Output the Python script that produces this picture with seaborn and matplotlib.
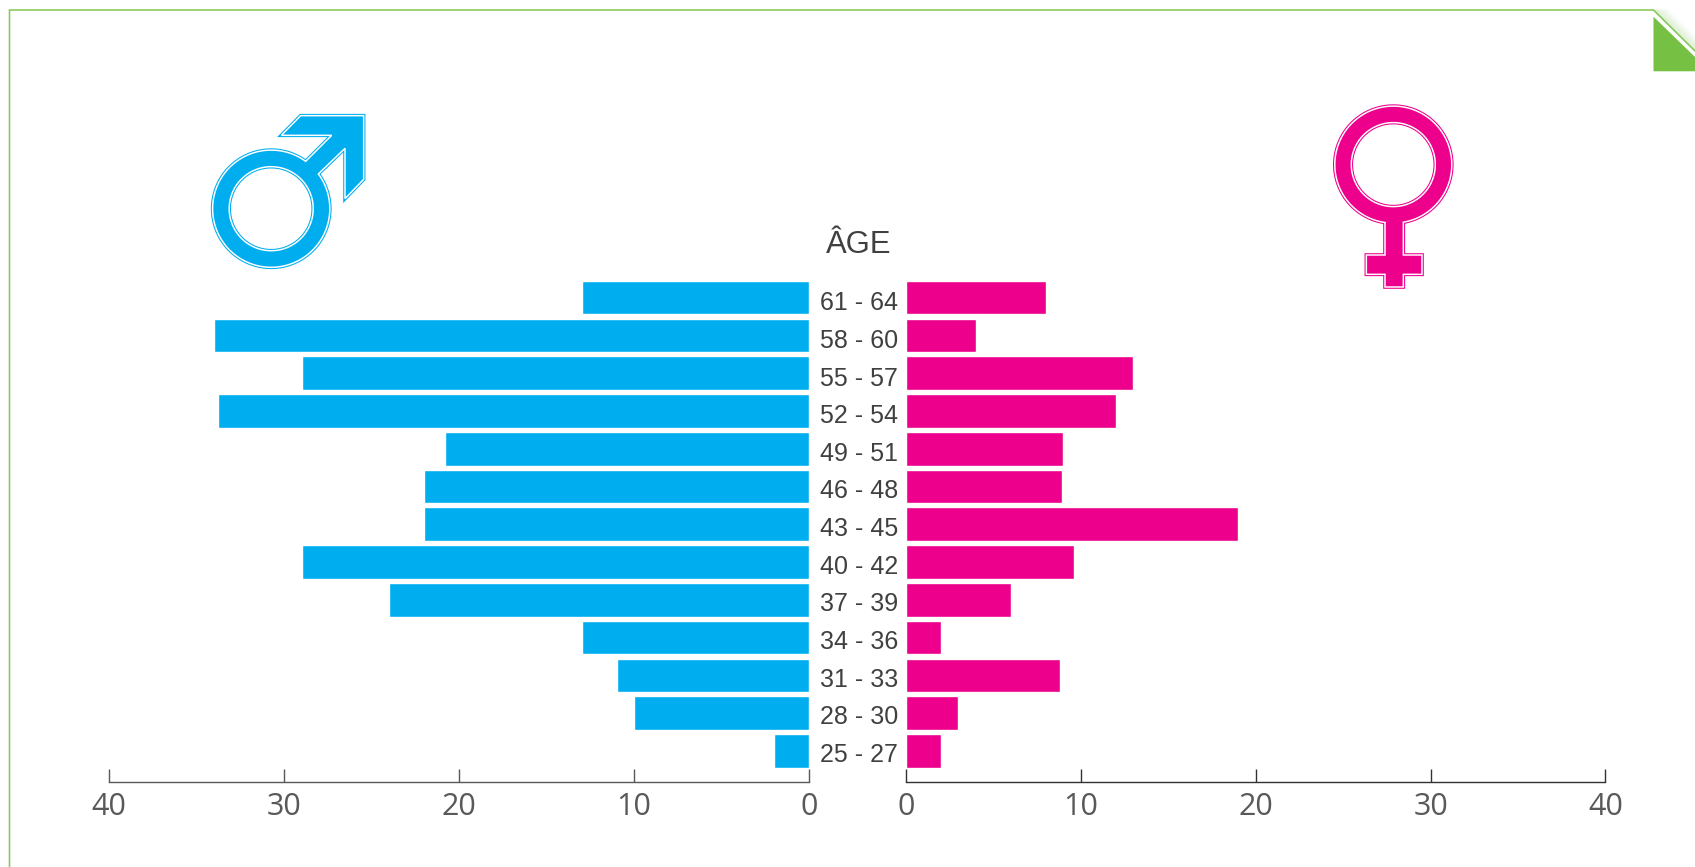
import numpy as np
import pandas as pd
import seaborn as sns
import matplotlib
matplotlib.use("Agg")
import matplotlib.pyplot as plt
from matplotlib.path import Path
from matplotlib.patches import PathPatch, Polygon

age_groups = ["61 - 64", "58 - 60", "55 - 57", "52 - 54", "49 - 51", "46 - 48", "43 - 45",
              "40 - 42", "37 - 39", "34 - 36", "31 - 33", "28 - 30", "25 - 27"]
men = [13, 34, 29, 33.8, 20.8, 22, 22, 29, 24, 13, 11, 10, 2]
women = [8, 4, 13, 12, 9, 8.9, 19, 9.6, 6, 2, 8.8, 3, 2]
x_ticks = [0, 10, 20, 30, 40]
age_title = "ÂGE"

BLUE = "#00AEEF"
PINK = "#EC008C"
GREEN = "#76C143"
FRAME = "#86C95C"
W, H = 1695, 867
PT = 72 / 100  # points per pixel at 100 dpi

sns.set_theme(style="white", rc={"font.family": ["Open Sans", "DejaVu Sans"]})
fig = plt.figure(figsize=(W / 100, H / 100), dpi=100, facecolor="white")


def axes_px(x0, x1, y0, y1, **kw):
    return fig.add_axes([x0 / W, 1 - y1 / H, (x1 - x0) / W, (y1 - y0) / H], **kw)


# Two mirrored panels sharing the age categories
pitch = 37.78
top_centre = 297.6
axis_y = 782.0
y_top = top_centre - pitch / 2
ylim_bottom = (axis_y - top_centre) / pitch
ax_m = axes_px(109.3, 809, y_top, axis_y)
ax_f = axes_px(906, 1605.5, y_top, axis_y)
data = pd.DataFrame({"age": age_groups, "men": men, "women": women})
sns.barplot(data=data, y="age", x="men", ax=ax_m, color=BLUE, saturation=1, width=0.889)
sns.barplot(data=data, y="age", x="women", ax=ax_f, color=PINK, saturation=1, width=0.889)
ax_m.set_xlim(40, 0)
ax_f.set_xlim(0, 40)

for ax, axis_col in ((ax_m, "#595959"), (ax_f, "#333333")):
    ax.set_ylim(ylim_bottom, -0.5)
    ax.set_xlabel("")
    ax.set_ylabel("")
    ax.patch.set_alpha(0)
    ax.set_xticks(x_ticks)
    ax.set_xticklabels([str(t) for t in x_ticks], fontsize=22, color="#595959")
    ax.tick_params(axis="x", direction="in", bottom=True, length=12.7 * PT, width=1.4 * PT,
                   color=axis_col, pad=7.5)
    ax.set_yticks([])
    for side in ("top", "left", "right"):
        ax.spines[side].set_visible(False)
    ax.spines["bottom"].set_color(axis_col)
    ax.spines["bottom"].set_linewidth(1.4 * PT)

# Age labels in the gutter between the panels; they sit slightly below their bars
n_rows = len(age_groups)
for i, age in enumerate(age_groups):
    drop_px = 1.6 + 1.5 * (n_rows - 1 - i) / (n_rows - 1)
    ax_f.annotate(age, xy=(0, i), xycoords="data", xytext=(-8 * PT, -drop_px * PT),
                  textcoords="offset points", ha="right", va="center_baseline",
                  fontsize=18, color="#404040", family="Liberation Sans",
                  annotation_clip=False)

# Decoration layer in pixel coordinates
deco = fig.add_axes([0, 0, 1, 1], zorder=5)
deco.set_xlim(0, W)
deco.set_ylim(H, 0)
deco.axis("off")
deco.patch.set_alpha(0)

deco.text(858.5, 245, age_title, ha="center", va="center", fontsize=22.3,
          color="#404040", family="Liberation Sans")


def arc(cx, cy, r, a0, a1, n=160):
    t = np.radians(np.linspace(a0, a1, n))
    return np.column_stack([cx + r * np.cos(t), cy + r * np.sin(t)])


def compound(outer, inner):
    verts = np.vstack([outer, outer[:1], inner, inner[:1]])
    codes = ([Path.MOVETO] + [Path.LINETO] * (len(outer) - 1) + [Path.CLOSEPOLY]
             + [Path.MOVETO] + [Path.LINETO] * (len(inner) - 1) + [Path.CLOSEPOLY])
    return Path(verts, codes)


def outlined_symbol(path, colour):
    # Solid fill with a white keyline running just inside a thin coloured edge
    deco.add_patch(PathPatch(path, facecolor=colour, edgecolor="none"))
    deco.add_patch(PathPatch(path, facecolor="none", edgecolor=colour, lw=3.6 * PT, joinstyle="miter"))
    deco.add_patch(PathPatch(path, facecolor="none", edgecolor="white", lw=1.5 * PT, joinstyle="miter"))


def angle(cx, cy, p):
    return np.degrees(np.arctan2(p[1] - cy, p[0] - cx))


# Male symbol: ring plus arrow, traced from the arrow's lower root around to its upper root
mx, my, mr_out, mr_in = 271.2, 208.7, 58.6, 42.0
m_head = np.array([[377, 244], [455, 166], [304, 166], [362, 107], [551, 107], [551, 298],
                   [495, 356], [495, 205], [415, 282]], dtype=float) / 3 + [180, 80]
a_end = angle(mx, my, m_head[0]) + 360
a_start = angle(mx, my, m_head[-1])
outer_m = np.vstack([m_head, arc(mx, my, mr_out, a_start, a_end)[1:-1]])
outlined_symbol(compound(outer_m, arc(mx, my, mr_in, 360, 0)), BLUE)

# Female symbol: ring with a stem and cross bar
fx, fy, fr_out, fr_in = 1393.3, 164.6, 58.5, 42.0
f_stem = np.array([[310, 428], [310, 525], [366, 525], [366, 583], [310, 583], [310, 621],
                   [255, 621], [255, 583], [199, 583], [199, 525], [255, 525], [255, 428]],
                  dtype=float) / 3 + [1300, 80]
a0 = angle(fx, fy, f_stem[-1])
a1 = angle(fx, fy, f_stem[0])
f_arc = arc(fx, fy, fr_out, a0, a1 + 360)
outer_f = np.vstack([f_arc, f_stem])
outlined_symbol(compound(outer_f, arc(fx, fy, fr_in, 360, 0)), PINK)

# Page frame with a folded top-right corner
deco.plot([9.5, 9.5, 1653.5, 1695], [H, 10, 10, 51], color=FRAME, lw=1.6 * PT,
          solid_joinstyle="miter", clip_on=False)
for k in range(1, 16):
    deco.plot([1653.5 + k, 1695 + k], [10, 51], color=GREEN,
              alpha=0.13 * (1 - k / 16), lw=1.4 * PT)
deco.add_patch(Polygon([[1653.5, 16.7], [1695, 57], [1695, 71.3], [1653.5, 71.3]],
                       closed=True, facecolor=GREEN, edgecolor="none"))

fig.savefig("out.png", dpi=100, facecolor="white")
